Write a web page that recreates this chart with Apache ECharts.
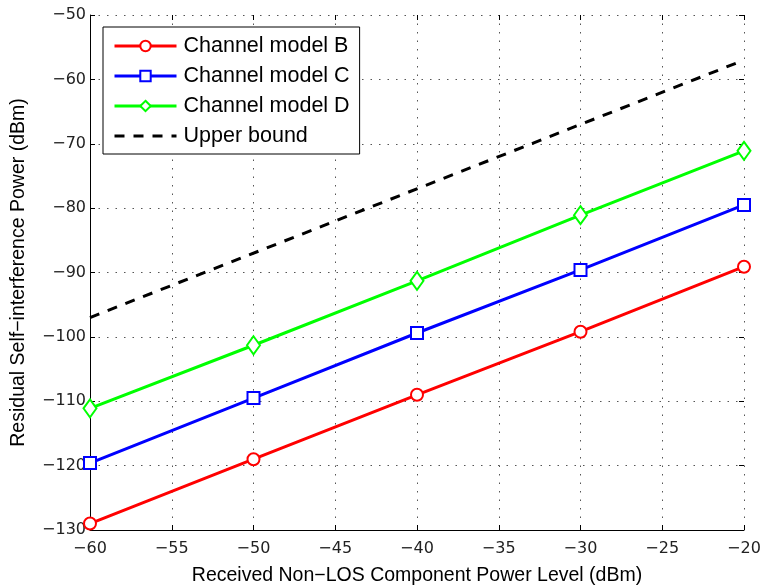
<!DOCTYPE html>
<html><head><meta charset="utf-8">
<script src="https://cdn.jsdelivr.net/npm/echarts@6/dist/echarts.min.js"></script>
<style>html,body{margin:0;padding:0;background:#fff}#c{width:763px;height:586px}</style>
</head><body><div id="c"></div>
<script>
const xValues = [-60, -50, -40, -30, -20];
const modelB = [-129, -119, -109, -99.2, -89.1];
const modelC = [-119.6, -109.5, -99.4, -89.6, -79.5];
const modelD = [-111.1, -101.3, -91.3, -81.1, -71.1];
const upperX = [-60, -20];
const upperBound = [-97, -57];
const seriesNames = ['Channel model B', 'Channel model C', 'Channel model D', 'Upper bound'];

const fmt = v => String(v).replace('-', '\u2212');
const font = 'Liberation Sans, Arial, sans-serif';
const tickFont = 'DejaVu Sans, sans-serif';
const pair = (xs, ys) => xs.map((x, i) => [x, ys[i]]);

const chart = echarts.init(document.getElementById('c'));
const gridLine = {show: true, lineStyle: {color: '#555', type: [1.5, 7], width: 1}};
chart.setOption({
  animation: false,
  backgroundColor: '#fff',
  grid: {left: 90, right: 19, top: 15, bottom: 56, containLabel: false, outerBoundsMode: 'none'},
  legend: {
    orient: 'vertical', left: 103, top: 27,
    backgroundColor: '#fff', borderColor: '#000', borderWidth: 1,
    padding: [8, 10, 7, 10], itemGap: 8, itemWidth: 62, itemHeight: 13,
    lineStyle: {width: 3},
    textStyle: {fontFamily: font, fontSize: 21.5, color: '#000', padding: [0, 0, 0, 2]},
    data: [
      {name: seriesNames[0]}, {name: seriesNames[1]}, {name: seriesNames[2]},
      {name: seriesNames[3], itemStyle: {opacity: 0}}
    ]
  },
  xAxis: [{
    type: 'value', min: -60, max: -20, interval: 5,
    axisLine: {show: true, lineStyle: {color: '#000', width: 1}},
    axisTick: {inside: true, length: 5, lineStyle: {color: '#000'}},
    axisLabel: {formatter: fmt, fontFamily: tickFont, fontSize: 16, color: '#222', margin: 11},
    splitLine: gridLine,
    name: 'Received Non\u2212LOS Component Power Level (dBm)', nameLocation: 'middle', nameGap: 36,
    nameTextStyle: {fontFamily: font, fontSize: 19.5, color: '#000'}
  }, {
    type: 'value', position: 'top', min: -60, max: -20, interval: 5,
    axisLine: {show: false}, axisTick: {show: true, inside: true, length: 5, lineStyle: {color: '#000'}},
    axisLabel: {show: false}, splitLine: {show: false}
  }],
  yAxis: [{
    type: 'value', min: -130, max: -50, interval: 10,
    axisLine: {show: true, lineStyle: {color: '#000', width: 1}},
    axisTick: {show: true, inside: true, length: 5, lineStyle: {color: '#000'}},
    axisLabel: {formatter: fmt, fontFamily: tickFont, fontSize: 16, color: '#222', margin: 4},
    splitLine: gridLine,
    name: 'Residual Self\u2212interference Power (dBm)', nameLocation: 'middle', nameGap: 61,
    nameTextStyle: {fontFamily: font, fontSize: 19.5, color: '#000'}
  }, {
    type: 'value', position: 'right', min: -130, max: -50, interval: 10,
    axisLine: {show: false}, axisTick: {show: true, inside: true, length: 5, lineStyle: {color: '#000'}},
    axisLabel: {show: false}, splitLine: {show: false}
  }],
  series: [
    {name: seriesNames[0], type: 'line', data: pair(xValues, modelB), symbol: 'emptyCircle', symbolSize: 12,
     lineStyle: {color: '#ff0000', width: 3}, itemStyle: {color: '#ff0000', borderColor: '#ff0000', borderWidth: 3}},
    {name: seriesNames[1], type: 'line', data: pair(xValues, modelC), symbol: 'emptyRect', symbolSize: 12,
     lineStyle: {color: '#0000ff', width: 3}, itemStyle: {color: '#0000ff', borderColor: '#0000ff', borderWidth: 3}},
    {name: seriesNames[2], type: 'line', data: pair(xValues, modelD), symbol: 'emptyDiamond', symbolSize: [13, 18],
     lineStyle: {color: '#00ff00', width: 3}, itemStyle: {color: '#00ff00', borderColor: '#00ff00', borderWidth: 3}},
    {name: seriesNames[3], type: 'line', data: pair(upperX, upperBound), symbol: 'none',
     lineStyle: {color: '#000', width: 3, type: [10, 9]}, itemStyle: {color: '#000'}}
  ]
});
</script></body></html>
